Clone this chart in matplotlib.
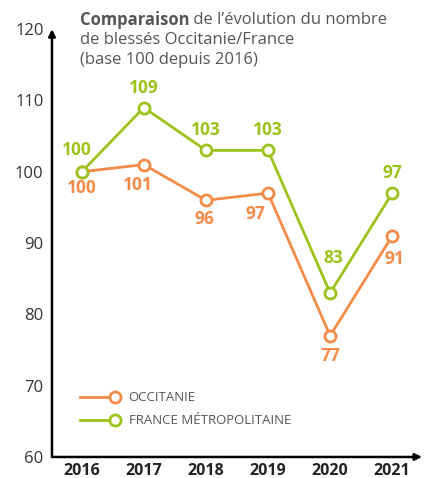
import matplotlib.pyplot as plt

plt.rcParams['font.family'] = ['Open Sans', 'DejaVu Sans']

years = ['2016', '2017', '2018', '2019', '2020', '2021']
occitanie = [100, 101, 96, 97, 77, 91]
france = [100, 109, 103, 103, 83, 97]

# label offsets in pixels (dx, dy)
occ_offsets = [(0, -16), (-6, -20), (-2, -19), (-13, -21), (0, -20), (2, -23)]
fra_offsets = [(-5, 22), (0, 20), (0, 20), (0, 20), (3, 35), (0, 20)]

orange = '#F28B48'
green = '#9DC21C'
gray = '#555555'

fig = plt.figure(figsize=(4.48, 4.78), dpi=100)
ax = fig.add_axes([0.116, 0.044, 0.826, 0.895])

x = list(range(len(years)))
ax.plot(x, occitanie, color=orange, lw=2, marker='o', ms=8, mfc='white', mew=2, zorder=3)
ax.plot(x, france, color=green, lw=2, marker='o', ms=8, mfc='white', mew=2, zorder=3)

px = 0.72  # points per pixel at dpi 100
for i, v in enumerate(occitanie):
    dx, dy = occ_offsets[i]
    ax.annotate(str(v), (i, v), xytext=(dx * px, dy * px), textcoords='offset points',
                ha='center', va='center', color=orange, fontsize=12.5, fontweight='bold')
for i, v in enumerate(france):
    dx, dy = fra_offsets[i]
    ax.annotate(str(v), (i, v), xytext=(dx * px, dy * px), textcoords='offset points',
                ha='center', va='center', color=green, fontsize=12.5, fontweight='bold')

ax.set_xlim(-0.48, 5.48)
ax.set_ylim(60, 120)
ax.set_xticks(x)
ax.set_xticklabels(years, fontweight='bold', fontsize=11.5, color='#222222')
ax.set_yticks([60, 70, 80, 90, 100, 110, 120])
ax.tick_params(axis='both', length=0)
ax.tick_params(axis='y', labelcolor='#333333', labelsize=12, pad=6)
ax.tick_params(axis='x', pad=4)
for s in ax.spines.values():
    s.set_visible(False)

# axes with arrows
ax.annotate('', xy=(0, 1.0), xytext=(0, 0), xycoords='axes fraction',
            arrowprops=dict(arrowstyle='-|>', color='black', lw=1.8, mutation_scale=10,
                            shrinkA=0, shrinkB=0), annotation_clip=False)
ax.annotate('', xy=(1.0, 0), xytext=(0, 0), xycoords='axes fraction',
            arrowprops=dict(arrowstyle='-|>', color='black', lw=1.8, mutation_scale=10,
                            shrinkA=0, shrinkB=0), annotation_clip=False)

# legend
legend_items = [('OCCITANIE', orange), ('FRANCE MÉTROPOLITAINE', green)]
for k, (name, col) in enumerate(legend_items):
    yy = 0.140 - k * 0.054
    ax.plot([0.076, 0.170], [yy, yy], color=col, lw=2, transform=ax.transAxes, clip_on=False)
    ax.plot([0.170], [yy], color=col, marker='o', ms=8, mfc='white', mew=2,
            transform=ax.transAxes, clip_on=False)
    ax.text(0.207, yy, name, color=gray, fontsize=9.5, va='center', transform=ax.transAxes)

# title
renderer = fig.canvas.get_renderer()
t0 = fig.text(0.178, 0.958, 'Comparaison', fontsize=12, fontweight='bold', color=gray, va='center')
w = t0.get_window_extent(renderer=renderer).width / fig.bbox.width
fig.text(0.178 + w, 0.958, ' de l\u2019évolution du nombre', fontsize=12, color=gray, va='center')
fig.text(0.178, 0.917, 'de blessés Occitanie/France', fontsize=12, color=gray, va='center')
fig.text(0.178, 0.874, '(base 100 depuis 2016)', fontsize=12, color=gray, va='center')

fig.savefig('out.png', dpi=100)
